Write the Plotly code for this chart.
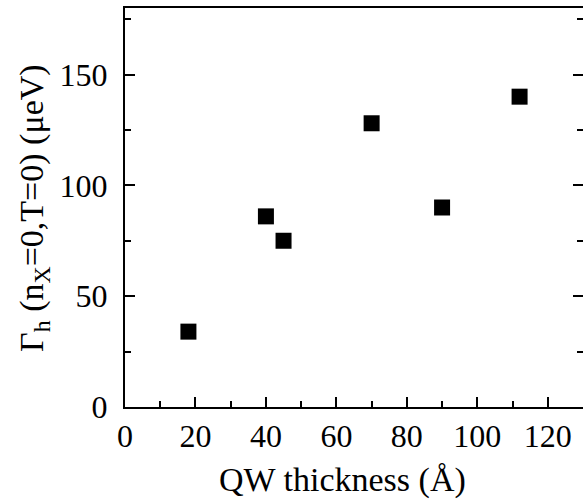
import plotly.graph_objects as go

thickness = [18, 40, 45, 70, 90, 112]
gamma_h = [34, 86, 75, 128, 90, 140]
x_ticks = [0, 20, 40, 60, 80, 100, 120]
y_ticks = [0, 50, 100, 150]

W, H = 583, 499
L, R, T, B = 125, 0, 8, 92
FONT = "Liberation Serif"

fig = go.Figure(go.Scatter(
    x=thickness, y=gamma_h, mode="markers",
    marker=dict(symbol="square", size=16, color="black", line=dict(width=0)),
))

tickfont = dict(family=FONT, size=32, color="black")
fig.update_xaxes(
    range=[0, 130], tickvals=x_ticks, ticktext=[str(v) for v in x_ticks],
    ticks="inside", ticklen=10, tickwidth=2, tickcolor="black",
    minor=dict(dtick=10, ticks="inside", ticklen=6, tickwidth=2, tickcolor="black"),
    showline=True, linewidth=2, linecolor="black", mirror=True,
    showgrid=False, zeroline=False, tickfont=tickfont, automargin=False,
)
fig.update_yaxes(
    range=[0, 180], tickvals=y_ticks, ticktext=[str(v) for v in y_ticks],
    ticks="inside", ticklen=10, tickwidth=2, tickcolor="black",
    minor=dict(dtick=25, ticks="inside", ticklen=6, tickwidth=2, tickcolor="black"),
    showline=True, linewidth=2, linecolor="black", mirror="ticks",
    showgrid=False, zeroline=False, tickfont=tickfont, automargin=False,
    ticklabelstandoff=9,
)
fig.add_annotation(
    text="Γ<sub>h</sub> (n<sub>X</sub>=0,T=0) (μeV)",
    xref="paper", yref="paper", x=-0.2, y=0.5, textangle=-90,
    showarrow=False, font=dict(family=FONT, size=34, color="black"),
    xanchor="center", yanchor="middle",
)
fig.add_annotation(
    text="QW thickness (Å)",
    xref="paper", yref="paper", x=0.474, y=-0.183,
    showarrow=False, font=dict(family=FONT, size=34, color="black"),
    xanchor="center", yanchor="middle",
)
fig.update_layout(
    width=W, height=H, margin=dict(l=L, r=R, t=T, b=B),
    paper_bgcolor="white", plot_bgcolor="white", showlegend=False,
)
fig.write_html(
    "out.html",
    config={"displayModeBar": False},
    post_script="document.body.style.margin='0';document.body.style.overflow='hidden';",
)
